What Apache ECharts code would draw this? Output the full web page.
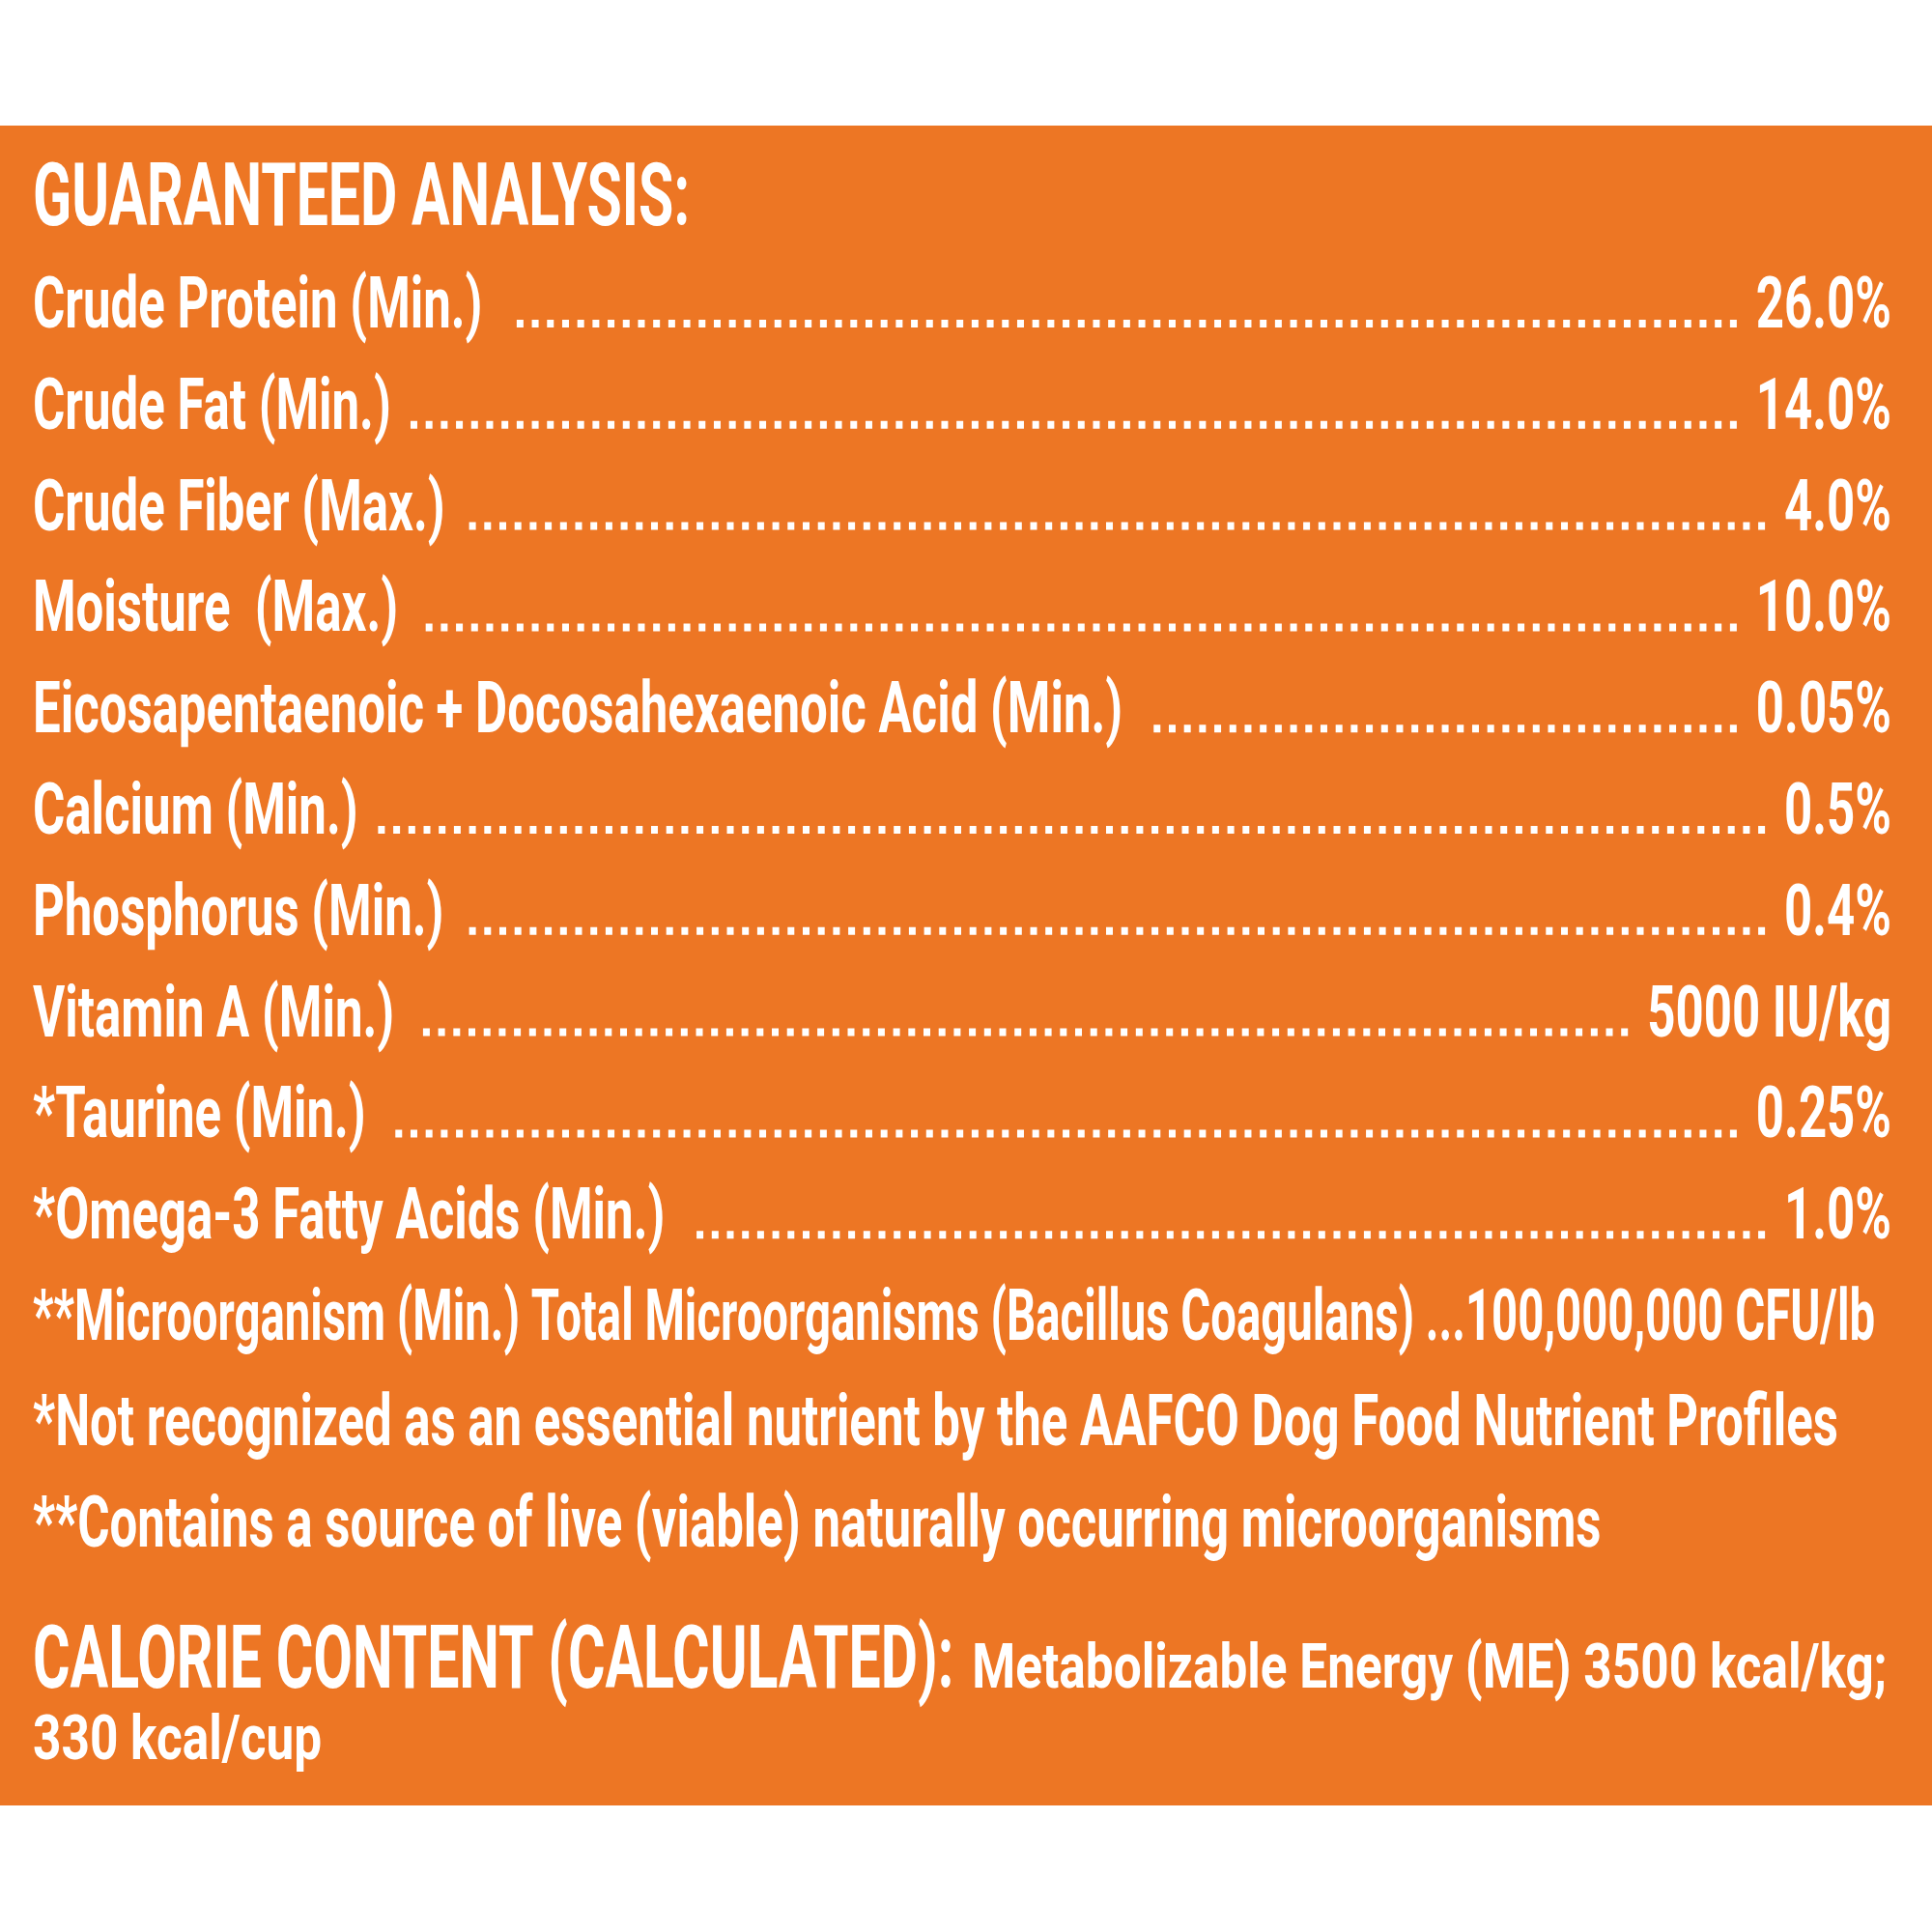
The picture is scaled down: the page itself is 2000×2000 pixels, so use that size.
<!DOCTYPE html>
<html><head><meta charset="utf-8">
<script src="https://cdn.jsdelivr.net/npm/echarts@6/dist/echarts.min.js"></script>
<style>html,body{margin:0;padding:0;background:#fff}#chart{width:2000px;height:2000px}</style>
</head><body><div id="chart"></div>
<script>
// ---- data ----
const nutrients = [
  'Crude Protein (Min.)',
  'Crude Fat (Min.)',
  'Crude Fiber (Max.)',
  'Moisture  (Max.)',
  'Eicosapentaenoic + Docosahexaenoic Acid (Min.)',
  'Calcium (Min.)',
  'Phosphorus (Min.)',
  'Vitamin A (Min.)',
  '*Taurine (Min.)',
  '*Omega-3 Fatty Acids (Min.)',
  '**Microorganism (Min.) Total Microorganisms (Bacillus Coagulans)'
];
const amounts = ['26.0%', '14.0%', '4.0%', '10.0%', '0.05%', '0.5%', '0.4%', '5000 IU/kg', '0.25%', '1.0%', '100,000,000 CFU/lb'];
const leaders = ['dots', 'dots', 'dots', 'dots', 'dots', 'dots', 'dots', 'dots', 'dots', 'dots', 'ellipsis'];
const titleText = 'GUARANTEED ANALYSIS:';
const footnotes = [
  '*Not recognized as an essential nutrient by the AAFCO Dog Food Nutrient Profiles',
  '**Contains a source of live (viable) naturally occurring microorganisms'
];
const calorieHeading = 'CALORIE CONTENT (CALCULATED):';
const calorieLines = ['Metabolizable Energy (ME) 3500 kcal/kg;', '330 kcal/cup'];

// ---- styling / layout ----
const ORANGE = '#ED7624';
const FAMILY = 'Roboto';
const LEFT = 34, RIGHT_EDGE = 1958, TEXT_RIGHT = 1941;
const FIRST_BASE = 339, PITCH = 104.8;

const ctx = document.createElement('canvas').getContext('2d');
function fontStr(weight, size) { return weight + ' ' + size.toFixed(2) + 'px ' + FAMILY; }
function makeStyle(weight, cap, refText, refWidth) {
  ctx.font = fontStr(weight, 100); ctx.textBaseline = 'alphabetic';
  const capRatio = ctx.measureText('H').actualBoundingBoxAscent / 100;
  const size = cap / capRatio;
  const font = fontStr(weight, size);
  ctx.font = font;
  const w = ctx.measureText(refText).width;
  ctx.textBaseline = 'middle';
  const desc = ctx.measureText('H').actualBoundingBoxDescent;
  ctx.textBaseline = 'alphabetic';
  return { size, font, sx: refWidth / w, desc };
}
function width(st, s) { ctx.font = st.font; return ctx.measureText(s).width * st.sx; }

const ROW = makeStyle('bold', 54, footnotes[0], 1869);
const HEAD = makeStyle('bold', 66, titleText, 680);
const CAL = makeStyle('bold', 46, calorieLines[0], 947);
const lastRow = nutrients[nutrients.length - 1] + ' ...' + amounts[amounts.length - 1];
const ROW_FIT = makeStyle('bold', 54, lastRow, TEXT_RIGHT - LEFT);

function txt(st, s, x, base, align) {
  return {
    type: 'text', x: x, y: base - st.desc, scaleX: st.sx, scaleY: 1,
    style: { text: s, font: st.font, fill: '#fff', align: align || 'left', verticalAlign: 'middle' }
  };
}

const graphics = [
  { type: 'rect', z: -10, shape: { x: 0, y: 130, width: 2000, height: 1739 }, style: { fill: ORANGE } },
  txt(HEAD, titleText, LEFT, 233),
  txt(ROW, footnotes[0], LEFT, 1496),
  txt(ROW, footnotes[1], LEFT, 1601),
  txt(HEAD, calorieHeading, LEFT, 1747),
  txt(CAL, calorieLines[0], LEFT + width(HEAD, calorieHeading) + 19, 1747),
  txt(CAL, calorieLines[1], LEFT, 1821)
];

const n = nutrients.length;
const gridTop = FIRST_BASE - PITCH / 2;
const gridBottom = 2000 - (gridTop + n * PITCH);

const chart = echarts.init(document.getElementById('chart'), null, { renderer: 'canvas' });
chart.setOption({
  backgroundColor: '#fff',
  animation: false,
  grid: { left: LEFT, right: 2000 - RIGHT_EDGE, top: gridTop, bottom: gridBottom, containLabel: false, show: false },
  xAxis: { type: 'value', min: 0, max: 1, show: false },
  yAxis: { type: 'category', data: nutrients, inverse: true, show: false },
  graphic: graphics,
  series: [{
    type: 'custom',
    silent: true,
    clip: false,
    data: nutrients.map((name, i) => [0, i]),
    encode: { x: 0, y: 1 },
    renderItem: function (params, api) {
      const i = params.dataIndex;
      const p0 = api.coord([0, i]);
      const p1 = api.coord([1, i]);
      const base = p0[1];
      const label = nutrients[i], val = amounts[i];
      if (leaders[i] === 'ellipsis') {
        return { type: 'group', children: [txt(ROW_FIT, label + ' ...' + val, p0[0], base)] };
      }
      const labelEnd = p0[0] + width(ROW, label);
      const valStart = p1[0] - width(ROW, val);
      const x1 = labelEnd + 20, x2 = valStart - 20;
      const span = x2 - x1;
      const pitch = 15.7, dot = 7;
      const count = Math.floor((span - dot) / pitch) + 1;
      const sx = x2 - ((count - 1) * pitch + dot);
      return {
        type: 'group',
        children: [
          txt(ROW, label, p0[0], base, 'left'),
          { type: 'line', shape: { x1: sx, y1: base - 4, x2: x2 + 0.5, y2: base - 4 },
            style: { stroke: '#fff', lineWidth: 8, lineDash: [dot, pitch - dot], lineCap: 'butt' } },
          txt(ROW, val, p1[0], base, 'right')
        ]
      };
    }
  }]
});
</script>
</body></html>
